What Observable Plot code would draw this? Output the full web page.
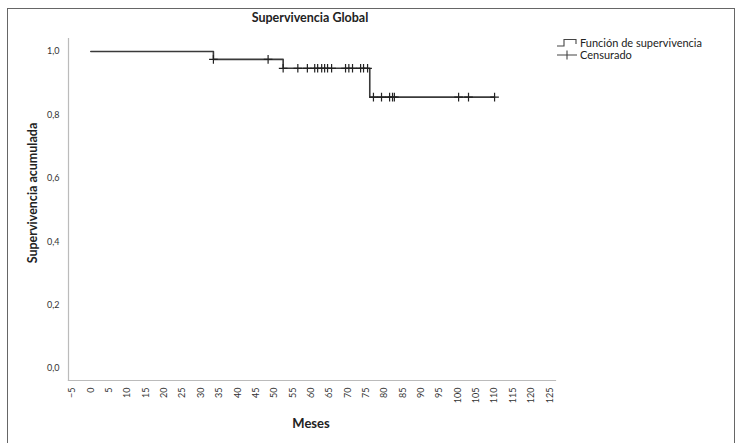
<!DOCTYPE html>
<html>
<head>
<meta charset="utf-8">
<script src="https://cdn.jsdelivr.net/npm/d3@7"></script>
<script src="https://cdn.jsdelivr.net/npm/@observablehq/plot@0.6"></script>
<style>
  html, body { margin: 0; padding: 0; background: #fff; }
  #wrap { position: relative; width: 741px; height: 443px; overflow: hidden; font-family: Lato, "Open Sans", sans-serif; color: #222; }
  #frame { position: absolute; left: 7px; top: 8px; width: 728px; height: 460px; border: 1.5px solid #666; box-sizing: border-box; }
  #chart { position: absolute; left: 0; top: 0; }
  .t { position: absolute; white-space: nowrap; }
  #title { left: 310px; top: 10px; transform: translateX(-50%); font-weight: bold; font-size: 12.5px; }
  #ytitle { left: 32px; top: 193px; transform: translate(-50%, -50%) rotate(-90deg); font-weight: bold; font-size: 12.5px; }
  #xtitle { left: 311px; top: 415px; transform: translateX(-50%); font-weight: bold; font-size: 13px; }
  #legend { left: 556px; top: 37px; font-size: 11px; line-height: 12px; }
  #legend .row { display: flex; align-items: center; height: 12px; }
  #legend svg { margin-right: 2px; }
</style>
</head>
<body>
<div id="wrap">
  <div id="frame"></div>
  <div id="chart"></div>
  <div class="t" id="title">Supervivencia Global</div>
  <div class="t" id="ytitle">Supervivencia acumulada</div>
  <div class="t" id="xtitle">Meses</div>
  <div class="t" id="legend"></div>
</div>
<script>
// Kaplan–Meier step points (time in months, cumulative survival)
const eventTimes = [0, 33.4, 52.4, 76, 110];
const survival = [1, 0.975, 0.947, 0.856, 0.856];
// Censored observations (months)
const censorTimes = [33.4, 48.3, 52.4, 56.4, 59, 61, 61.8, 62.9, 63.7, 64.5, 65.6,
  69.4, 70.3, 71.3, 73.5, 74.3, 75.4, 77, 79.2, 81.4, 82.2, 82.7, 100.2, 102.9, 110];
const xTicks = d3.range(-5, 126, 5);
const yTicks = [0, 0.2, 0.4, 0.6, 0.8, 1.0];
const legendLabels = ["Función de supervivencia", "Censurado"];

const curve = eventTimes.map((t, i) => ({t, s: survival[i]}));
const survAt = t => survival[Math.max(0, d3.bisectRight(eventTimes, t) - 1)];
const censored = censorTimes.map(t => ({t, s: survAt(t)}));

const xDomain = [-6.08, 126.6];
const yDomain = [-0.038, 1.041];

const chart = Plot.plot({
  width: 741,
  height: 443,
  marginLeft: 68,
  marginRight: 186,
  marginTop: 38,
  marginBottom: 63,
  x: {domain: xDomain},
  y: {domain: yDomain},
  style: {fontFamily: "Lato, 'Open Sans', sans-serif", fontSize: "9px", color: "#333", background: "transparent"},
  marks: [
    Plot.frame({anchor: "left", stroke: "#bbb", strokeWidth: 1.2}),
    Plot.frame({anchor: "bottom", stroke: "#bbb", strokeWidth: 1.2}),
    Plot.axisX(xTicks, {tickSize: 0, tickPadding: 7, tickRotate: -90, label: null, fontSize: 9}),
    Plot.axisY(yTicks, {tickSize: 0, tickPadding: 9, label: null, fontSize: 9,
      tickFormat: d => d.toFixed(1).replace(".", ",")}),
    Plot.line(curve, {x: "t", y: "s", curve: "step-after", stroke: "#3a3a3a", strokeWidth: 1.6}),
    Plot.dot(censored, {x: "t", y: "s", symbol: "plus", r: 2.9, stroke: "#222", strokeWidth: 1.2})
  ]
});
document.getElementById("chart").appendChild(chart);

const legend = document.getElementById("legend");
legend.innerHTML =
  `<div class="row"><svg width="22" height="12"><path d="M1,9 H8 V2.5 H20 V7" fill="none" stroke="#444" stroke-width="1.1"/></svg><span>${legendLabels[0]}</span></div>` +
  `<div class="row"><svg width="22" height="12"><path d="M1,6 H21 M11,1.5 V10.5" fill="none" stroke="#444" stroke-width="1.1"/></svg><span>${legendLabels[1]}</span></div>`;
</script>
</body>
</html>
